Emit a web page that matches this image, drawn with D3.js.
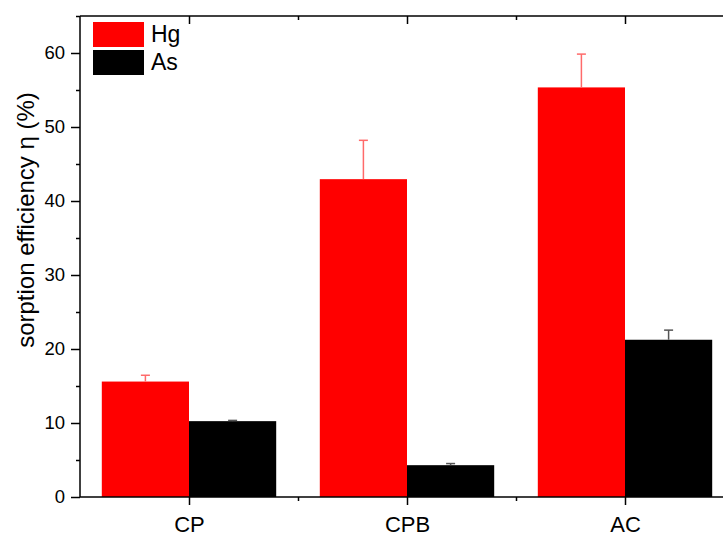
<!DOCTYPE html>
<html><head><meta charset="utf-8">
<script src="https://cdn.jsdelivr.net/npm/d3@7/dist/d3.min.js"></script>
<style>body{margin:0;background:#fff}svg{display:block}text{font-family:Arial,"Liberation Sans",sans-serif;fill:#000}</style>
</head><body><svg id="c" width="723" height="536"></svg>
<script>
const categories = ["CP", "CPB", "AC"];
const seriesNames = ["Hg", "As"];
const hgValues = [15.6, 42.95, 55.35];
const hgErrors = [0.85, 5.25, 4.5];
const asValues = [10.25, 4.3, 21.25];
const asErrors = [0.1, 0.22, 1.3];
const yTicks = [0, 10, 20, 30, 40, 50, 60];
const yMinorTicks = [5, 15, 25, 35, 45, 55, 65];

const svg = d3.select("#c");
const x = d3.scaleLinear().domain([0.5, 3.5]).range([80, 734]);
const y = d3.scaleLinear().domain([0, 65]).range([497, 16]);
const colors = ["#ff0000", "#000000"];
const errColors = ["#ff6a6a", "#555555"];
const series = [
  {name: seriesNames[0], values: hgValues, errors: hgErrors, off: -0.2},
  {name: seriesNames[1], values: asValues, errors: asErrors, off: 0.2}
];
const bw = 0.4;

series.forEach((s, si) => {
  const g = svg.append("g");
  g.selectAll("rect").data(s.values).enter().append("rect")
    .attr("x", (d, i) => x(i + 1 + s.off - bw / 2))
    .attr("width", x(1 + bw) - x(1))
    .attr("y", d => y(d))
    .attr("height", d => y(0) - y(d))
    .attr("fill", colors[si]);
});
series.forEach((s, si) => {
  const g = svg.append("g").attr("stroke", errColors[si]).attr("stroke-width", 1.5);
  s.values.forEach((v, i) => {
    const cx = x(i + 1 + s.off);
    g.append("line").attr("x1", cx).attr("x2", cx).attr("y1", y(v)).attr("y2", y(v + s.errors[i]));
    g.append("line").attr("x1", cx - 4.5).attr("x2", cx + 4.5).attr("y1", y(v + s.errors[i])).attr("y2", y(v + s.errors[i]));
  });
});

// left axis
const yAx = svg.append("g").attr("transform", "translate(80,0)")
  .call(d3.axisLeft(y).tickValues(yTicks).tickSize(9).tickPadding(6).tickFormat(d3.format("d")));
yAx.selectAll("text").style("font-size", "18.5px");
const yMin = svg.append("g").attr("transform", "translate(80,0)")
  .call(d3.axisLeft(y).tickValues(yMinorTicks).tickSize(4).tickFormat(""));
// bottom axis
const xAx = svg.append("g").attr("transform", "translate(0,497)")
  .call(d3.axisBottom(x).tickValues([1, 2, 3]).tickSize(8).tickPadding(11).tickFormat((d, i) => categories[i]));
xAx.selectAll("text").style("font-size", "22px");
const xMin = svg.append("g").attr("transform", "translate(0,497)")
  .call(d3.axisBottom(x).tickValues([1.5, 2.5, 3.5]).tickSize(4).tickFormat(""));
// top axis (inward ticks)
const xTop = svg.append("g").attr("transform", "translate(0,16)")
  .call(d3.axisBottom(x).tickValues([1, 2, 3]).tickSize(8).tickFormat(""));
const xTopMin = svg.append("g").attr("transform", "translate(0,16)")
  .call(d3.axisBottom(x).tickValues([1.5, 2.5, 3.5]).tickSize(4).tickFormat(""));
[yAx, yMin, xAx, xMin, xTop, xTopMin].forEach(a => {
  a.selectAll("path, line").attr("stroke", "#000").attr("stroke-width", 1.5);
  a.select(".domain").attr("d", null);
});
svg.append("line").attr("x1", 80).attr("x2", 734).attr("y1", 16).attr("y2", 16).attr("stroke", "#000").attr("stroke-width", 1.5);
svg.append("line").attr("x1", 80).attr("x2", 734).attr("y1", 497).attr("y2", 497).attr("stroke", "#000").attr("stroke-width", 1.5);
svg.append("line").attr("x1", 80).attr("x2", 80).attr("y1", 16).attr("y2", 497).attr("stroke", "#000").attr("stroke-width", 1.5);

// y label
svg.append("text").attr("transform", "translate(34,220) rotate(-90)")
  .attr("text-anchor", "middle").style("font-size", "24px").text("sorption efficiency η (%)");

// legend
const leg = svg.append("g");
seriesNames.forEach((n, i) => {
  leg.append("rect").attr("x", 93).attr("y", 22 + i * 28).attr("width", 51).attr("height", 25).attr("fill", colors[i]);
  leg.append("text").attr("x", 151).attr("y", 42 + i * 28).style("font-size", "23px").text(n);
});
</script></body></html>
